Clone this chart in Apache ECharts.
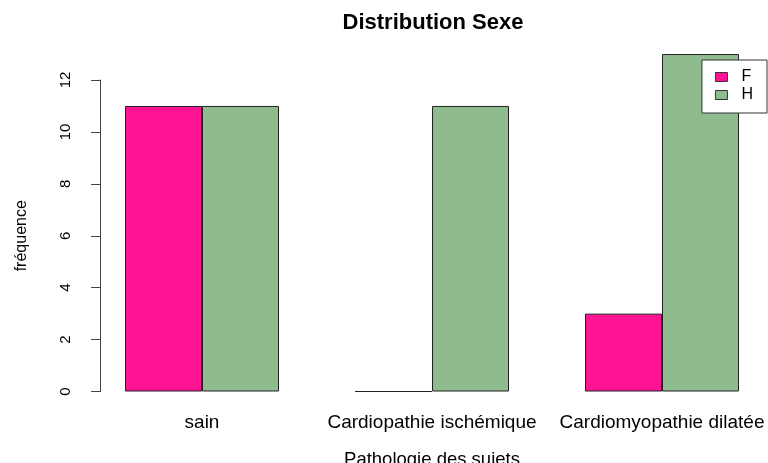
<!DOCTYPE html>
<html>
<head>
<meta charset="utf-8">
<script src="https://cdn.jsdelivr.net/npm/echarts@6/dist/echarts.min.js"></script>
<style>
  html, body { margin: 0; padding: 0; background: #fff; }
  #myChart { width: 768px; height: 463px; }
</style>
</head>
<body>
<div id="myChart"></div>
<script>
// données
const categories = ['sain', 'Cardiopathie ischémique', 'Cardiomyopathie dilatée'];
const femmes = [11, 0, 3];
const hommes = [11, 11, 13];
const yTicks = { min: 0, max: 12, step: 2 };

const myChart = echarts.init(document.getElementById('myChart'));
const font = '"Liberation Sans", Arial, sans-serif';

const option = {
  animation: false,
  textStyle: { fontFamily: font },
  title: {
    text: 'Distribution Sexe',
    left: 428,
    textAlign: 'center',
    top: 7,
    textStyle: { fontFamily: font, fontWeight: 'bold', fontSize: 22, color: '#000' }
  },
  legend: {
    orient: 'vertical',
    right: 1,
    top: 60,
    backgroundColor: '#fff',
    borderColor: '#333',
    borderWidth: 1,
    borderRadius: 0,
    padding: [9, 14, 10, 13],
    itemWidth: 12,
    itemHeight: 9,
    itemGap: 2,
    icon: 'rect',
    textStyle: { fontFamily: font, fontSize: 16, color: '#000', padding: [0, 0, 0, 9] },
    itemStyle: { borderColor: '#333', borderWidth: 1 },
    data: ['F', 'H'],
    z: 10
  },
  grid: {
    left: 87,
    top: 80,
    width: 690,
    bottom: 71.5,
    outerBoundsMode: 'none'
  },
  xAxis: {
    type: 'category',
    data: categories,
    axisLine: { show: false },
    axisTick: { show: false },
    axisLabel: { interval: 0, margin: 22, fontSize: 19, color: '#000', fontFamily: font },
    name: 'Pathologie des sujets',
    nameLocation: 'middle',
    nameGap: 59,
    nameTextStyle: { fontSize: 18.5, color: '#000', fontFamily: font }
  },
  yAxis: {
    type: 'value',
    min: yTicks.min,
    max: yTicks.max,
    interval: yTicks.step,
    offset: -13,
    axisLine: { show: true, lineStyle: { color: '#444', width: 1 } },
    axisTick: { show: true, length: 9, lineStyle: { color: '#444' } },
    splitLine: { show: false },
    axisLabel: { rotate: 90, margin: 27, fontSize: 15, color: '#000', fontFamily: font },
    name: 'fréquence',
    nameLocation: 'middle',
    nameGap: 70,
    nameTextStyle: { fontSize: 16, color: '#000', fontFamily: font }
  },
  series: [
    {
      name: 'F',
      type: 'bar',
      clip: false,
      barWidth: 77,
      barGap: '0%',
      itemStyle: { color: '#FF1493', borderColor: '#222', borderWidth: 1 },
      data: femmes
    },
    {
      name: 'H',
      type: 'bar',
      clip: false,
      barWidth: 77,
      barGap: '0%',
      itemStyle: { color: '#8FBC8F', borderColor: '#222', borderWidth: 1 },
      data: hommes
    }
  ]
};

myChart.setOption(option);
</script>
</body>
</html>
